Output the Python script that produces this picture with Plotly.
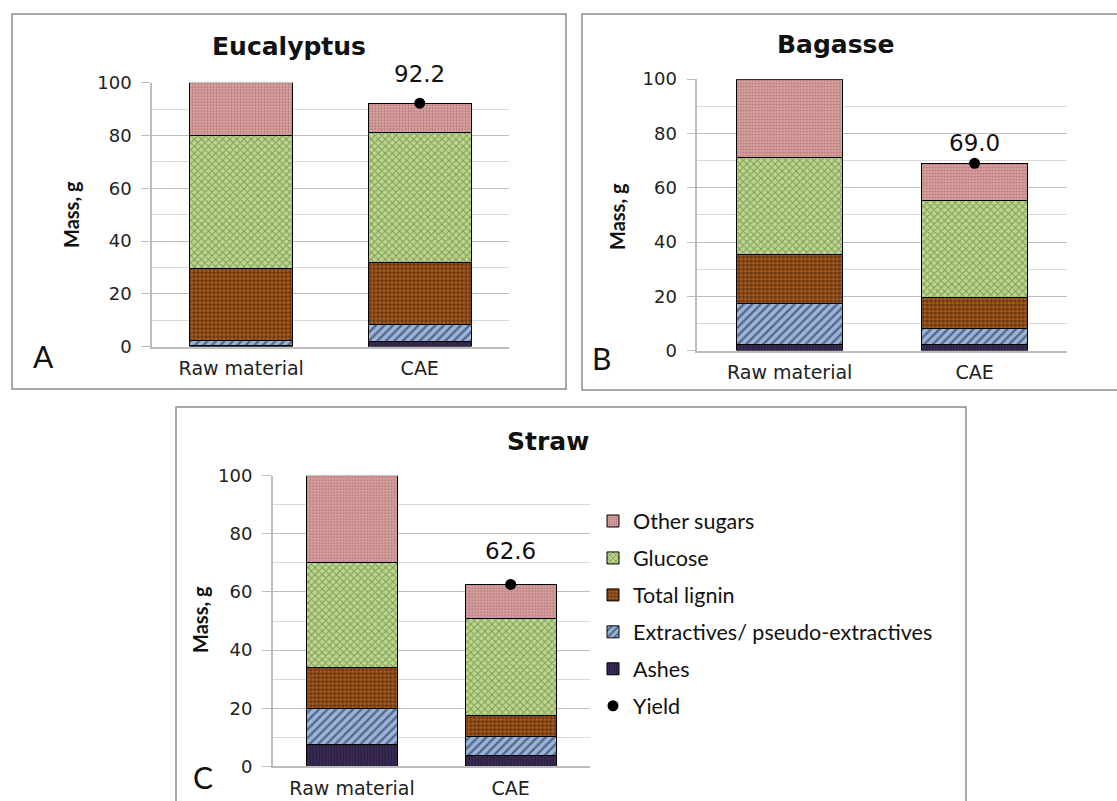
import plotly.graph_objects as go

# ---- data -------------------------------------------------------------
categories = ["Raw material", "CAE"]

eucalyptus_ashes = [0.3, 2.0]
eucalyptus_extractives = [2.0, 6.3]
eucalyptus_lignin = [27.3, 23.4]
eucalyptus_glucose = [50.2, 49.3]
eucalyptus_other_sugars = [20.2, 11.2]

bagasse_ashes = [2.4, 2.2]
bagasse_extractives = [14.9, 5.8]
bagasse_lignin = [18.1, 11.4]
bagasse_glucose = [35.8, 36.0]
bagasse_other_sugars = [28.8, 13.6]

straw_ashes = [7.7, 3.9]
straw_extractives = [12.2, 6.3]
straw_lignin = [14.1, 7.4]
straw_glucose = [36.0, 33.2]
straw_other_sugars = [30.0, 11.8]

yield_values = [92.2, 69.0, 62.6]
panel_titles = ["Eucalyptus", "Bagasse", "Straw"]
panel_letters = ["A", "B", "C"]
y_ticks = [0, 20, 40, 60, 80, 100]

# ---- styling ----------------------------------------------------------
W, H = 1117, 801
# page offset / vertical scale of the rendered paper area
PAGE_TOP = 8
PAGE_SCALE = 0.9787

TICK_FONT = dict(family="DejaVu Sans", size=18, color="#222222")
CAT_FONT = dict(family="DejaVu Sans", size=19, color="#222222")
LABEL_FONT = "Lato"

components = [
    # name, legend rank, colour, pattern
    ("Ashes", 5, "#3b2a58", dict(shape="|", fgcolor="#111111", size=3, solidity=0.35)),
    ("Extractives/ pseudo-extractives", 4, "#97b5e0", dict(shape="/", fgcolor="#1a1a1a", size=6, solidity=0.4)),
    ("Total lignin", 3, "#b3601e", dict(shape=".", fgcolor="#1a1008", size=4, solidity=0.65)),
    ("Glucose", 2, "#bcd68c", dict(shape="x", fgcolor="#3f5a22", size=5, solidity=0.35)),
    ("Other sugars", 1, "#dea4a4", dict(shape=".", fgcolor="#7a4646", size=3, solidity=0.4)),
]

panels = [
    dict(values=[eucalyptus_ashes, eucalyptus_extractives, eucalyptus_lignin,
                 eucalyptus_glucose, eucalyptus_other_sugars],
         xdom=(152, 509), ydom=(80, 345.3), frame=(12, 11, 566, 388),
         title_xy=(289, 44), letter_xy=(43, 355), ylab_xy=(71, 213), label_shift=29),
    dict(values=[bagasse_ashes, bagasse_extractives, bagasse_lignin,
                 bagasse_glucose, bagasse_other_sugars],
         xdom=(697.3, 1067), ydom=(76.5, 349.3), frame=(582, 11, 1130, 389),
         title_xy=(835, 42), letter_xy=(602, 357), ylab_xy=(617, 215), label_shift=20),
    dict(values=[straw_ashes, straw_extractives, straw_lignin,
                 straw_glucose, straw_other_sugars],
         xdom=(272.7, 590), ydom=(475, 767.3), frame=(176, 406, 966, 830),
         title_xy=(548, 441), letter_xy=(203, 778), ylab_xy=(200, 620), label_shift=33),
]


def px_x(v):
    return v / W


def px_y(v):
    return 1 - ((v - PAGE_TOP) / PAGE_SCALE) / H


def paper_text(x, y, text, font, angle=0):
    return dict(x=px_x(x), y=px_y(y), xref="paper", yref="paper", text=text,
                showarrow=False, xanchor="center", yanchor="middle",
                textangle=angle, font=font)


fig = go.Figure()
shapes, annotations = [], []

for i, p in enumerate(panels):
    suffix = "" if i == 0 else str(i + 1)
    xa, ya = "x" + suffix, "y" + suffix
    legend_on = i == 2

    for (name, rank, colour, pattern), vals in zip(components, p["values"]):
        fig.add_trace(go.Bar(
            x=categories, y=vals, name=name, xaxis=xa, yaxis=ya,
            width=0.575, legendrank=rank, legendgroup=name,
            showlegend=legend_on,
            marker=dict(color=colour, line=dict(color="#000000", width=1),
                        pattern=dict(fillmode="overlay", **pattern)),
        ))

    fig.add_trace(go.Scatter(
        x=[categories[1]], y=[yield_values[i]], mode="markers", name="Yield",
        xaxis=xa, yaxis=ya, legendrank=6, legendgroup="Yield", showlegend=legend_on,
        marker=dict(color="#000000", size=11), cliponaxis=False,
    ))
    annotations.append(dict(
        x=categories[1], y=yield_values[i], xref=xa, yref=ya,
        text=f"{yield_values[i]:.1f}", showarrow=False, yshift=p["label_shift"],
        xanchor="center", yanchor="middle",
        font=dict(family="DejaVu Sans", size=23, color="#111111"),
    ))

    fig.update_layout(**{
        ("xaxis" + suffix): dict(
            domain=[px_x(p["xdom"][0]), px_x(p["xdom"][1])], anchor=ya,
            range=[-0.5, 1.5], type="category", showline=True, linecolor="#bdbdbd",
            linewidth=1.5, ticks="", showgrid=False, tickfont=CAT_FONT, fixedrange=True,
            ticklabelstandoff=4,
        ),
        ("yaxis" + suffix): dict(
            domain=[px_y(p["ydom"][1]), px_y(p["ydom"][0])], anchor=xa,
            range=[0, 100], tickvals=y_ticks, showline=True, linecolor="#bdbdbd",
            linewidth=1.5, ticks="outside", ticklen=9, tickcolor="#bdbdbd",
            showgrid=True, gridcolor="#bdbdbd", gridwidth=1.2, zeroline=False,
            minor=dict(dtick=10, showgrid=True, gridcolor="#dadada", ticks=""),
            tickfont=TICK_FONT, ticklabelstandoff=6,
        ),
    })

    x0, y0, x1, y1 = p["frame"]
    shapes.append(dict(type="rect", xref="paper", yref="paper",
                       x0=px_x(x0), x1=px_x(x1), y0=px_y(y1), y1=px_y(y0),
                       line=dict(color="#8c8c8c", width=1.5), layer="below"))

    annotations.append(paper_text(*p["title_xy"], f"<b>{panel_titles[i]}</b>",
                                  dict(family="DejaVu Sans", size=25, color="#111111")))
    annotations.append(paper_text(*p["letter_xy"], panel_letters[i],
                                  dict(family=LABEL_FONT, size=30, color="#111111")))
    annotations.append(paper_text(*p["ylab_xy"], "<b>Mass, g</b>",
                                  dict(family=LABEL_FONT, size=20, color="#111111"), angle=-90))

fig.update_layout(
    width=W, height=H, margin=dict(l=0, r=0, t=0, b=0),
    paper_bgcolor="#ffffff", plot_bgcolor="#ffffff",
    barmode="stack", shapes=shapes, annotations=annotations,
    legend=dict(x=px_x(593), y=px_y(500), xanchor="left", yanchor="top",
                font=dict(family=LABEL_FONT, size=21.5, color="#111111"),
                traceorder="grouped", tracegroupgap=6, itemwidth=30,
                bgcolor="rgba(0,0,0,0)"),
    showlegend=True,
)

fig.write_html("out.html")
